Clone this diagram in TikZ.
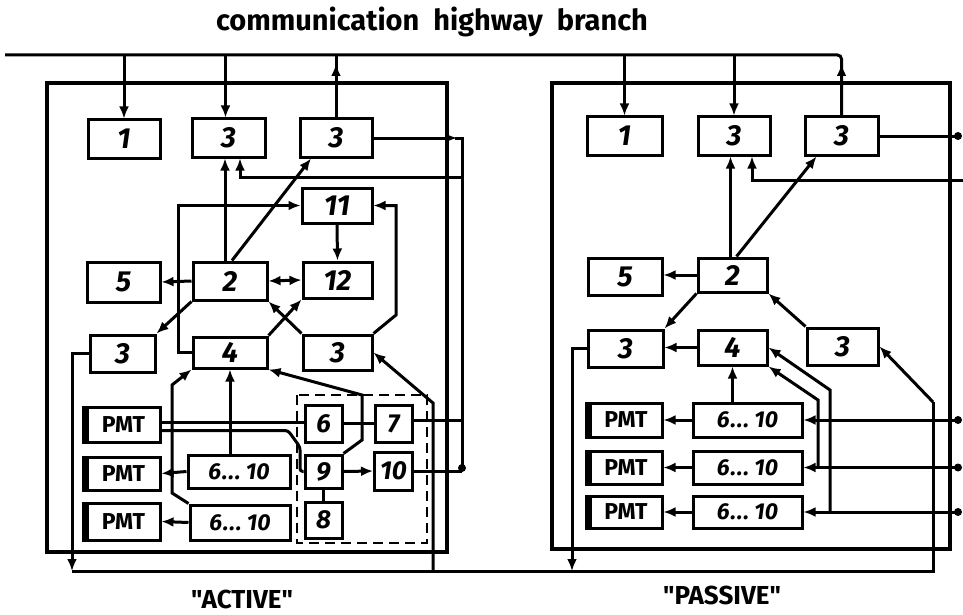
\documentclass[tikz,border=0pt]{standalone}
\usepackage{fontspec}
\setmainfont{Fira Sans}
\newfontfamily\lblfont{Fira Sans}
\usetikzlibrary{arrows.meta,calc}
\begin{document}
\begin{tikzpicture}[x=1pt,y=-1pt,
  wire/.style={line width=3pt},
  arr/.style={wire,-{Latex[length=12pt,width=10pt]}},
  arrb/.style={wire,{Latex[length=12pt,width=10pt]}-{Latex[length=12pt,width=10pt]}},
  encl/.style={line width=3.2pt},
  bx/.style={draw,line width=3pt,inner sep=0pt,font=\fontsize{29}{29}\selectfont\bfseries\itshape},
  sbx/.style={bx,font=\fontsize{26}{26}\selectfont\bfseries\itshape},
  pmt/.style={draw,line width=3pt,inner sep=0pt,font=\fontsize{23}{23}\selectfont\bfseries},
  rng/.style={draw,line width=3pt,inner sep=0pt,font=\fontsize{23}{23}\selectfont\bfseries\itshape},
  jdot/.style={circle,fill,inner sep=0pt,minimum size=8pt},
  lbl/.style={font=\fontsize{26}{26}\selectfont\lblfont\bfseries}]
\useasboundingbox (0,0) rectangle (963,615);

% title
\node[font=\fontsize{29}{29}\selectfont\bfseries] (title) at (432,22) {communication\hspace{14pt}highway\hspace{14pt}branch};

% enclosures
\draw[encl] (47,83) rectangle (447,552);
\draw[encl] (552,83) rectangle (950,549);
\draw[line width=2.2pt,dash pattern=on 10pt off 6pt] (297,395) rectangle (427,543);

% ---------------- ACTIVE ----------------
\node[bx,minimum width=72,minimum height=38] (a1) at (124,139) {1};
\node[bx,minimum width=73,minimum height=38] (a3a) at (228.5,138) {3};
\node[bx,minimum width=72,minimum height=38] (a3b) at (336,138) {3};
\node[bx,minimum width=70,minimum height=35] (a11) at (337,205.5) {11};
\node[bx,minimum width=69,minimum height=36] (a12) at (337.5,280) {12};
\node[bx,minimum width=74,minimum height=38] (a2) at (230,281) {2};
\node[bx,minimum width=73,minimum height=40] (a5) at (123.5,282) {5};
\node[bx,minimum width=65,minimum height=37] (a3c) at (122.5,353.5) {3};
\node[bx,minimum width=74,minimum height=31] (a4) at (230,352.5) {4};
\node[bx,minimum width=69,minimum height=35] (a3d) at (337.5,352.5) {3};
\node[sbx,minimum width=37,minimum height=37] (a6) at (323.5,423.5) {6};
\node[sbx,minimum width=37,minimum height=37] (a7) at (393.5,423.5) {7};
\node[sbx,minimum width=37,minimum height=33] (a9) at (323.5,471.5) {9};
\node[sbx,minimum width=38,minimum height=38] (a10) at (393.5,471) {10};
\node[sbx,minimum width=37,minimum height=36] (a8) at (323.5,520) {8};
\node[pmt,minimum width=73,minimum height=35] (pmt1) at (123.5,424.5) {PMT};
\node[pmt,minimum width=73,minimum height=33] (pmt2) at (123.5,473.5) {PMT};
\node[pmt,minimum width=73,minimum height=37] (pmt3) at (123.5,521.5) {PMT};
\node[rng,minimum width=102,minimum height=33] (aA) at (239,471.5) {6\kern1pt.\kern1pt.\kern1pt.\ 10};
\node[rng,minimum width=100,minimum height=35] (aB) at (240,522.5) {6\kern1pt.\kern1pt.\kern1pt.\ 10};
\foreach \n in {pmt1,pmt2,pmt3}{\fill ([xshift=-4pt]\n.south west) rectangle (\n.north west);}

% ---------------- PASSIVE nodes ----------------
\node[bx,minimum width=75,minimum height=38] (p1) at (624.5,136) {1};
\node[bx,minimum width=72,minimum height=38] (p3a) at (734,136) {3};
\node[bx,minimum width=73,minimum height=38] (p3b) at (841.5,136) {3};
\node[bx,minimum width=74,minimum height=37] (p5) at (625,276.5) {5};
\node[bx,minimum width=69,minimum height=34] (p2) at (732.5,275) {2};
\node[bx,minimum width=75,minimum height=37] (p3c) at (625.5,348.5) {3};
\node[bx,minimum width=69,minimum height=35] (p4) at (732.5,347.5) {4};
\node[bx,minimum width=71,minimum height=37] (p3d) at (842.5,346.5) {3};
\node[pmt,minimum width=72,minimum height=34] (ppmt1) at (626,420) {PMT};
\node[pmt,minimum width=72,minimum height=33] (ppmt2) at (626,467.5) {PMT};
\node[pmt,minimum width=72,minimum height=32] (ppmt3) at (626,512) {PMT};
\node[rng,minimum width=109,minimum height=34] (pA) at (747.5,420) {6\kern1pt.\kern1pt.\kern1pt.\ 10};
\node[rng,minimum width=109,minimum height=33] (pB) at (747.5,467.5) {6\kern1pt.\kern1pt.\kern1pt.\ 10};
\node[rng,minimum width=109,minimum height=32] (pC) at (747.5,512) {6\kern1pt.\kern1pt.\kern1pt.\ 10};
\foreach \n in {ppmt1,ppmt2,ppmt3}{\fill ([xshift=-4pt]\n.south west) rectangle (\n.north west);}

\coordinate (bus) at (0,55);
\coordinate (aT) at (462,0);

% bus
\draw[wire,rounded corners=4pt] (5,55) -- (p3b.north |- bus) -- (p3b.north);
\draw[arr] (a1.north |- bus) -- (a1.north);
\draw[arr] ([xshift=-3pt]a3a.north |- bus) -- ([xshift=-3pt]a3a.north);
\draw[wire] (a3b.north |- bus) -- (a3b.north);
\draw[arr] (a3b.north) -- (a3b.north |- 0,64);

% upper connectors (active)
\draw[arr] ([xshift=-5pt]a2.north) -- ([xshift=-5pt]a2.north |- a3a.south);
\draw[arr] ([xshift=2pt]a2.north) -- ([xshift=-25pt]a3b.south);
\draw[arr] (aT |- 0,177) -- (240,177) -- (a3a.south -| 240,0);
\draw[arr] (a3b.east) -- (457,138);
\draw[wire] (455,138) -- (aT |- 0,138) -- (aT |- 0,468);
\draw[arr] (a11.south) -- (a12.north);
\draw[arr] (a4.west) -- (178,352.5) -- (178,205.5) -- (a11.west);
\draw[arr] (a3d.north east) -- (396,315) -- (396,205.5) -- (a11.east);
\draw[arr] (a2.west) -- (a5.east);
\draw[arrb] (a2.east) -- (a12.west);
\draw[arr] (a3d.north west) -- (a2.south east);
\draw[arr] (a4.north east) -- (a12.south west);
\draw[arr] (a2.south west) -- (a3c.north east);

% left return and bottom line
\draw[arr] (a3c.west) -- (72,353.5) -- (72,571);
\draw[wire] (72,571) -- (933,571) -- (933,402);
\draw[arr] (933,402) -- (p3d.east);
\draw[arr] (433,571) -- (433,403) -- (a3d.east);

% dashed block
\draw[arr] (a9.north east) -- (362,440) -- (362,395) -- (a4.south east);
\draw[wire] (a6.east) -- (a7.west);
\draw[wire] ([yshift=3pt]a7.east) -- ([yshift=3pt]a7.east -| aT);
\draw[arr] (a9.east) -- (a10.west);
\draw[wire] (a10.east) -- (a10.east -| aT);
\node[jdot] (tj) at (aT |- 0,468) {};
\draw[wire] (a9.south) -- (a8.north);
\draw[wire] ([yshift=2pt]pmt1.east) -- ([yshift=1pt]a6.west);
\draw[wire,rounded corners=3pt] ([yshift=-6pt]pmt1.east) -- (288,430.5) -- (300,447) -- (300,471.5) -- (a9.west);
\draw[arr] (aB.north west) -- (172,493) -- (172,385) -- (a4.south west);
\draw[arr] (a4.south |- aA.north) -- (a4.south);
\draw[arr] (aA.west) -- (pmt2.east);
\draw[arr] (aB.west) -- (pmt3.east);

% passive connectors
\draw[arr] (p1.north |- bus) -- (p1.north);
\draw[arr] (p3a.north |- bus) -- (p3a.north);
\draw[arr] (p3b.north) -- (p3b.north |- 0,64);
\draw[wire] (p3b.east) -- (958,136);
\node[jdot] (r1) at (958,136) {};
\draw[arr] ([xshift=-2pt]p2.north) -- ([xshift=-2pt]p2.north |- p3a.south);
\draw[arr] (963,180) -- (752,180) -- (p3a.south -| 752,0);
\draw[arr] ([xshift=4pt]p2.north) -- ([xshift=-25pt]p3b.south);
\draw[arr] (p2.west) -- (p2.west -| p5.east);
\draw[arr] (p2.south west) -- (p3c.north east);
\draw[arr] (p3d.north west) -- (p2.south east);
\draw[arr] (p4.west) -- (p4.west -| p3c.east);
\draw[arr] (p4.south |- pA.north) -- (p4.south);
\draw[arr] (p3c.west) -- (572,348.5) -- (572,571);
\draw[arr] (830,512) -- (830,390) -- (p4.east);
\draw[arr] (818,467.5) -- (818,400) -- (p4.south east);
\draw[arr] (958,420) -- (pA.east);
\draw[arr] (958,467.5) -- (pB.east);
\draw[arr] (958,512) -- (pC.east);
\node[jdot] (r2) at (958,420) {};
\node[jdot] (r3) at (958,467.5) {};
\node[jdot] (r4) at (958,512) {};
\draw[arr] (pA.west) -- (ppmt1.east);
\draw[arr] (pB.west) -- (ppmt2.east);
\draw[arr] (pC.west) -- (ppmt3.east);

% labels
\node[lbl] (lact) at (242,599) {"ACTIVE"};
\node[lbl] (lpas) at (722,595) {"PASSIVE"};
\end{tikzpicture}
\end{document}
